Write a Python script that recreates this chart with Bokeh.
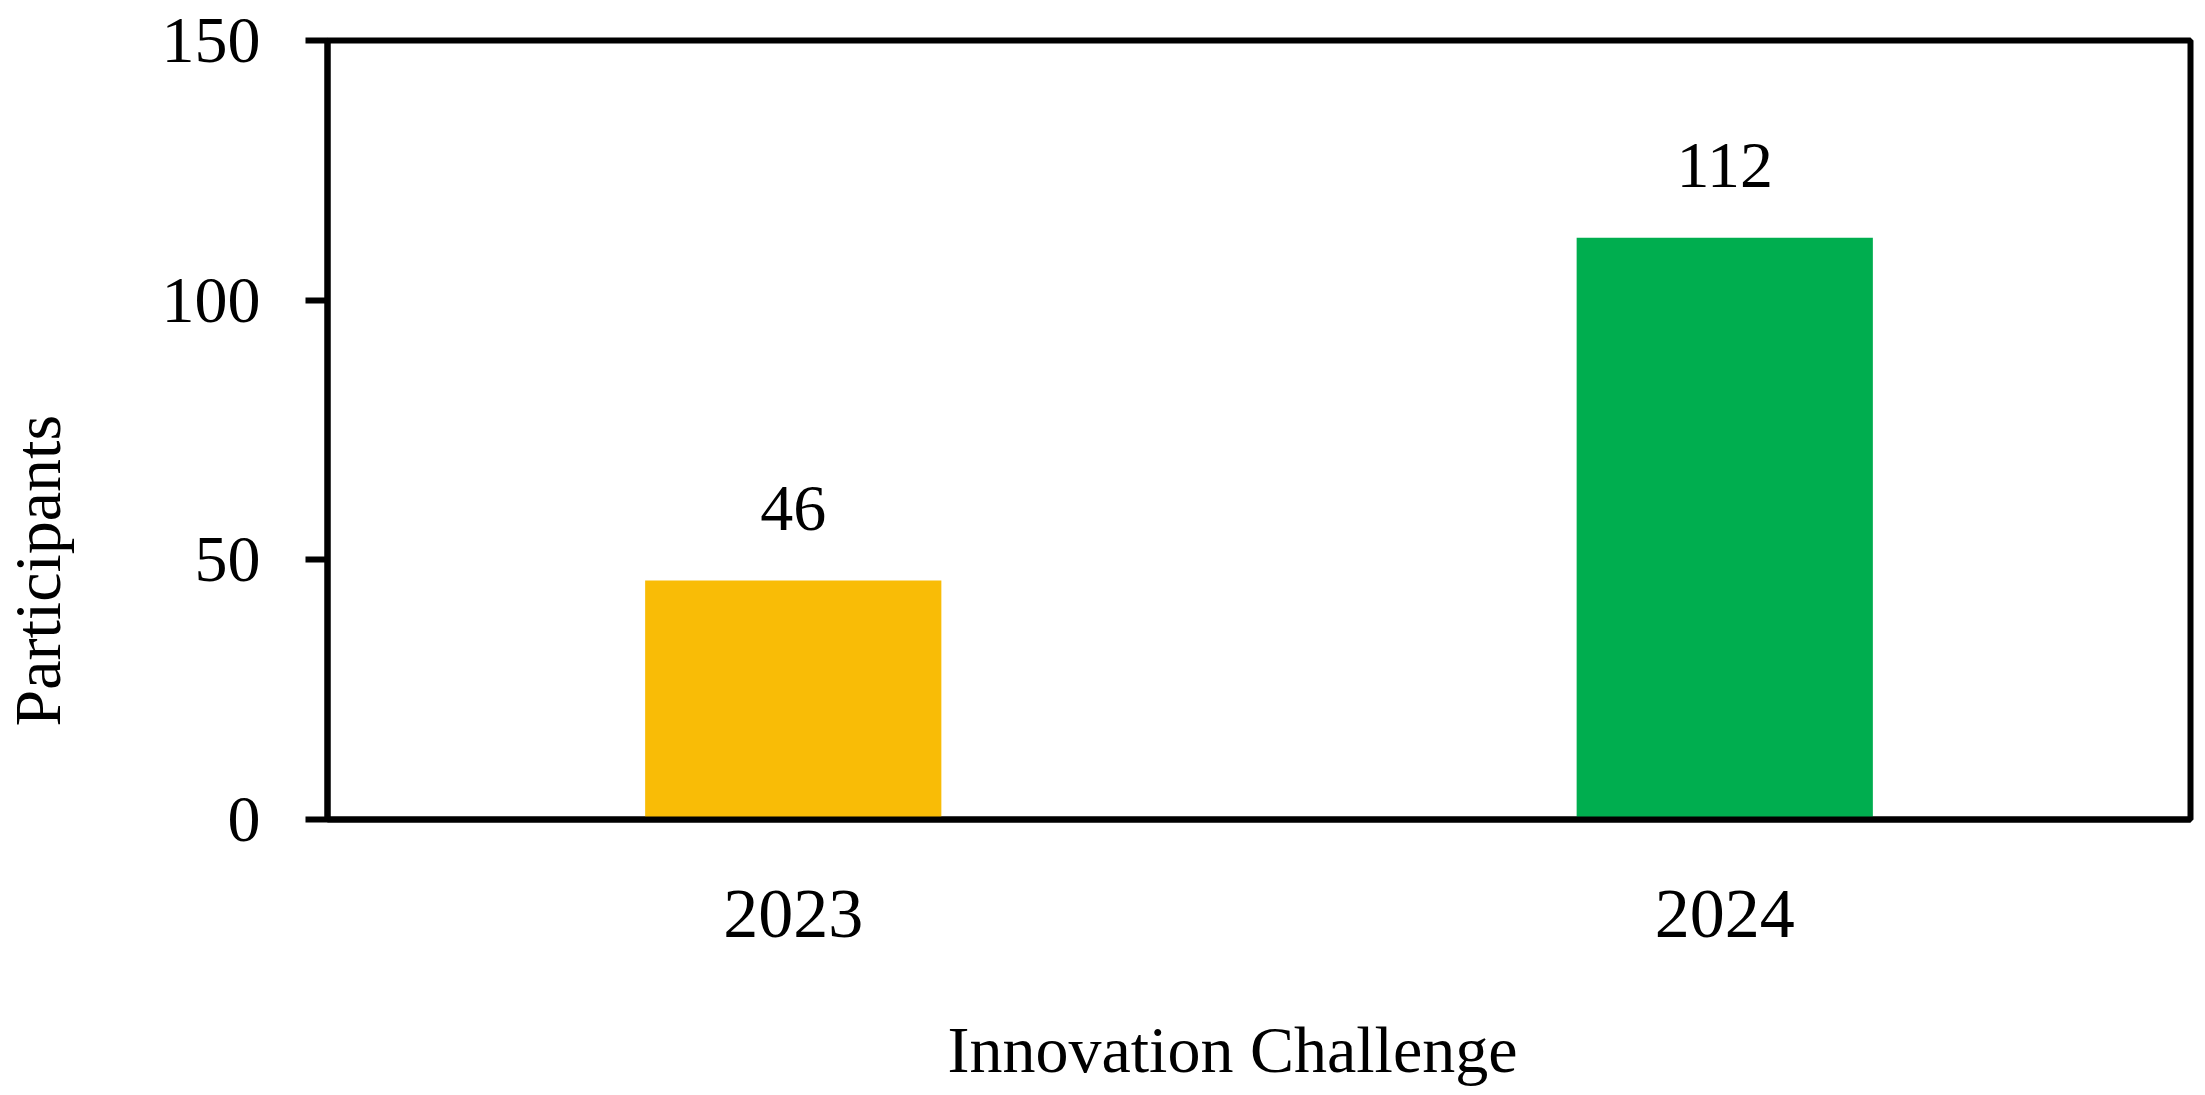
from bokeh.plotting import figure
from bokeh.models import ColumnDataSource, FactorRange, Range1d, FixedTicker, LabelSet, Title
from bokeh.core.properties import value
from bokeh.embed import file_html
from bokeh.resources import INLINE

# ---- data ----
years = ["2023", "2024"]
participants = [46, 112]
bar_colors = ["#F9BC06", "#00AE4F"]
y_ticks = [0, 50, 100, 150]
x_title = "Innovation Challenge"
y_title = "Participants"

FONT = "Liberation Serif"
FS = "66px"

source = ColumnDataSource(dict(
    year=years,
    value=participants,
    color=bar_colors,
    label=[str(v) for v in participants],
))

p = figure(
    width=2197, height=1087,
    x_range=FactorRange(*years, range_padding=0),
    y_range=Range1d(0, 150),
    output_backend="svg", toolbar_location=None,
    min_border_left=325, min_border_right=7,
    min_border_top=40, min_border_bottom=266,
)
p.background_fill_color = "white"
p.border_fill_color = "white"
p.grid.visible = False

p.outline_line_color = "black"
p.outline_line_width = 6
p.outline_line_alpha = 1.0

p.vbar(x="year", top="value", width=0.318, color="color", source=source, line_color=None)

labels = LabelSet(x="year", y="value", text="label", source=source,
                  y_offset=51, text_align="center", text_baseline="alphabetic",
                  text_font=value(FONT), text_font_size=value(FS), text_color="black")
p.add_layout(labels)

# y axis
ya = p.yaxis[0]
ya.ticker = FixedTicker(ticks=y_ticks)
ya.axis_line_color = "black"
ya.axis_line_width = 6
ya.major_tick_line_color = "black"
ya.major_tick_line_width = 6
ya.major_tick_out = 22
ya.major_tick_in = 0
ya.minor_tick_line_color = None
ya.major_label_standoff = 45
ya.major_label_text_font = FONT
ya.major_label_text_font_size = FS
ya.major_label_text_color = "black"
# spacer (invisible) to push the side title outward
ya.axis_label = "\u00a0"
ya.axis_label_text_font_size = "1px"
ya.axis_label_standoff = 79

# x axis
xa = p.xaxis[0]
xa.axis_line_color = "black"
xa.axis_line_width = 6
xa.major_tick_line_color = None
xa.major_tick_out = 0
xa.major_tick_in = 0
xa.minor_tick_line_color = None
xa.major_label_standoff = 71
xa.major_label_text_font = FONT
xa.major_label_text_font_size = "70px"
xa.major_label_text_color = "black"
xa.axis_label = "\u00a0"
xa.axis_label_text_font_size = "1px"
xa.axis_label_standoff = 69

# axis titles as side titles
p.add_layout(Title(text=x_title, align="left", offset=620, standoff=0,
                   vertical_align="top",
                   text_font=FONT, text_font_size=FS, text_font_style="normal",
                   text_color="black"), "below")
p.add_layout(Title(text=y_title, align="left", offset=93, standoff=0,
                   vertical_align="top",
                   text_font=FONT, text_font_size=FS, text_font_style="normal",
                   text_color="black"), "left")

open("out.html", "w").write(file_html(p, INLINE))
